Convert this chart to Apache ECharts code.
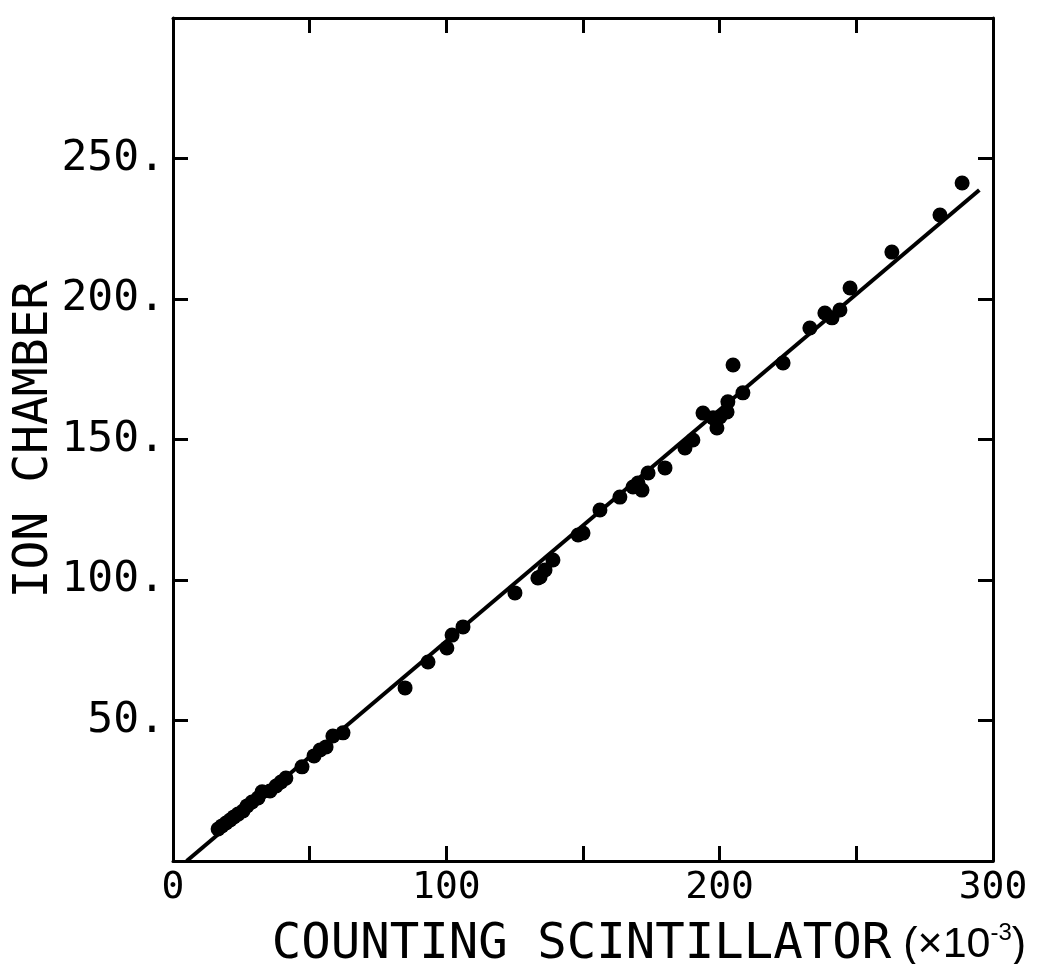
<!DOCTYPE html>
<html>
<head>
<meta charset="utf-8">
<script src="https://cdn.jsdelivr.net/npm/echarts@6/dist/echarts.min.js"></script>
<style>
html,body{margin:0;padding:0;background:#fff;}
#c{width:1040px;height:964px;}
</style>
</head>
<body>
<div id="c"></div>
<script>
// Measured points: counting scintillator (x10^-3) vs ion chamber
const scintX = [16.5, 17.9, 19.4, 20.9, 22.3, 23.8, 25.6, 27.1, 28.9, 31.1,
  32.6, 35.5, 37.7, 39.5, 41.3, 47.2, 51.6, 53.8, 56.0, 58.5,
  62.2, 84.9, 93.3, 100.2, 102.1, 106.1, 125.1, 133.5, 134.3, 136.1,
  139.0, 148.2, 150.0, 156.2, 163.5, 168.3, 170.1, 171.6, 173.8, 180.0,
  187.3, 190.2, 193.9, 197.6, 199.0, 200.1, 202.7, 203.0, 204.9, 208.5,
  223.2, 233.0, 238.5, 241.1, 244.0, 247.7, 263.0, 280.6, 288.7];
const ionY = [11.4, 12.5, 13.5, 14.6, 15.7, 16.7, 17.8, 19.6, 21.0, 22.4,
  24.6, 24.9, 26.7, 28.1, 29.5, 33.5, 37.4, 39.5, 40.6, 44.5,
  45.6, 61.6, 70.8, 75.8, 80.4, 83.3, 95.4, 100.7, 101.1, 103.6,
  107.1, 116.0, 116.7, 124.9, 129.5, 133.1, 134.5, 132.0, 138.1, 139.9,
  147.0, 149.8, 159.4, 157.7, 154.1, 158.0, 159.8, 163.4, 176.5, 166.6,
  177.2, 189.7, 195.0, 193.3, 196.1, 203.9, 216.7, 229.9, 241.3];
// Fitted straight line endpoints
const fitX = [5.0, 295.0];
const fitY = [0.0, 238.8];
// Axis tick labels
const xTickLabels = {0: '0', 100: '100', 200: '200', 300: '300'};
const yTickLabels = {50: '50.', 100: '100.', 150: '150.', 200: '200.', 250: '250.'};

const FONT = 'DejaVu Sans Mono';
const chart = echarts.init(document.getElementById('c'), null, {renderer: 'canvas'});
const lineStyle = {color: '#000', width: 3};
const common = {
  min: 0, max: 300, interval: 50,
  splitLine: {show: false},
  axisLine: {show: true, onZero: false, lineStyle: lineStyle},
  axisTick: {show: true, inside: true, length: 15, lineStyle: lineStyle}
};
chart.setOption({
  animation: false,
  backgroundColor: '#fff',
  grid: {left: 173, right: 47, top: 18, bottom: 103, containLabel: false, outerBoundsMode: 'none'},
  xAxis: [
    Object.assign({}, common, {
      type: 'value', position: 'bottom',
      axisLabel: {show: true, margin: 8, fontFamily: FONT, fontSize: 38, color: '#000',
        formatter: v => xTickLabels[v] || ''},
      name: '{a|COUNTING SCINTILLATOR}{b| (×10}{c|-3}{b|)}',
      nameLocation: 'middle', nameGap: 60, nameMoveOverlap: false,
      nameTextStyle: {
        padding: [0, 0, 0, 132],
        rich: {
          a: {fontFamily: FONT, fontSize: 49, color: '#000'},
          b: {fontFamily: 'Liberation Sans', fontSize: 43, color: '#000'},
          c: {fontFamily: 'Liberation Sans', fontSize: 24, color: '#000', padding: [0, 0, 24, 0]}
        }
      }
    }),
    Object.assign({}, common, {
      type: 'value', position: 'top',
      axisLabel: {show: false}
    })
  ],
  yAxis: [
    Object.assign({}, common, {
      type: 'value', position: 'left',
      axisLabel: {show: true, margin: 8, fontFamily: FONT, fontSize: 43, color: '#000',
        formatter: v => yTickLabels[v] || ''},
      name: 'ION CHAMBER', nameLocation: 'middle', nameGap: 114, nameMoveOverlap: false,
      nameTextStyle: {fontFamily: FONT, fontSize: 48, color: '#000'}
    }),
    Object.assign({}, common, {
      type: 'value', position: 'right',
      axisLabel: {show: false}
    })
  ],
  series: [
    {
      type: 'line', xAxisIndex: 0, yAxisIndex: 0,
      data: fitX.map((x, i) => [x, fitY[i]]),
      showSymbol: false, symbol: 'none',
      lineStyle: {color: '#000', width: 4}, z: 2
    },
    {
      type: 'scatter', xAxisIndex: 0, yAxisIndex: 0,
      data: scintX.map((x, i) => [x, ionY[i]]),
      symbol: 'circle', symbolSize: 15,
      itemStyle: {color: '#000', opacity: 1}, z: 3
    }
  ]
});
</script>
</body>
</html>
